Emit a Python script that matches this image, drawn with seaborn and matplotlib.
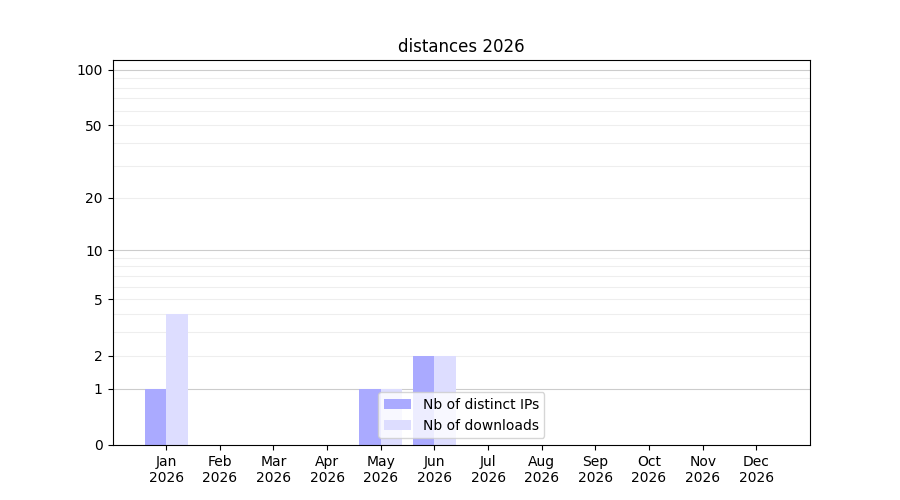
import numpy as np
import pandas as pd
import matplotlib
matplotlib.use("Agg")
import matplotlib.pyplot as plt
import seaborn as sns

months = ["Jan", "Feb", "Mar", "Apr", "May", "Jun", "Jul", "Aug", "Sep", "Oct", "Nov", "Dec"]
year = "2026"
distinct_ips = [1, 0, 0, 0, 1, 2, 0, 0, 0, 0, 0, 0]
downloads = [4, 0, 0, 0, 1, 2, 0, 0, 0, 0, 0, 0]
series_names = ["Nb of distinct IPs", "Nb of downloads"]
series_colors = ["#aaaaff", "#ddddff"]
major_ticks = [0, 1, 2, 5, 10, 20, 50, 100]
minor_grid = [3, 4, 6, 7, 8, 9, 30, 40, 60, 70, 80, 90, 2, 5, 20, 50]
major_grid = [1, 10, 100]

labels = [f"{m}\n{year}" for m in months]
df = pd.DataFrame({
    "month": labels * 2,
    "value": distinct_ips + downloads,
    "series": [series_names[0]] * 12 + [series_names[1]] * 12,
})

fig, ax = plt.subplots(figsize=(9, 5), dpi=100)
sns.barplot(data=df, x="month", y="value", hue="series", order=labels,
            hue_order=series_names, palette=series_colors, width=0.8,
            saturation=1, ax=ax, errorbar=None, linewidth=0)

ax.set_yscale("function", functions=(lambda v: np.log10(np.clip(v, -0.999, None) + 1),
                                       lambda v: 10 ** v - 1))
ax.set_ylim(0, 113)
ax.set_xlim(-1, 12)
ax.set_yticks(major_ticks)
ax.set_yticklabels([str(t) for t in major_ticks])
ax.set_yticks(minor_grid, minor=True)
ax.tick_params(axis="y", which="minor", length=0)
for g in minor_grid:
    ax.axhline(g, color="#eeeeee", linewidth=0.8, zorder=0)
for g in major_grid:
    ax.axhline(g, color="#cccccc", linewidth=0.8, zorder=0)
ax.set_axisbelow(True)
ax.set_xlabel("")
ax.set_ylabel("")
ax.set_title("distances 2026")
handles, lbls = ax.get_legend_handles_labels()
ax.legend(handles, lbls, loc="lower center")

fig.savefig("out.png", dpi=100)
